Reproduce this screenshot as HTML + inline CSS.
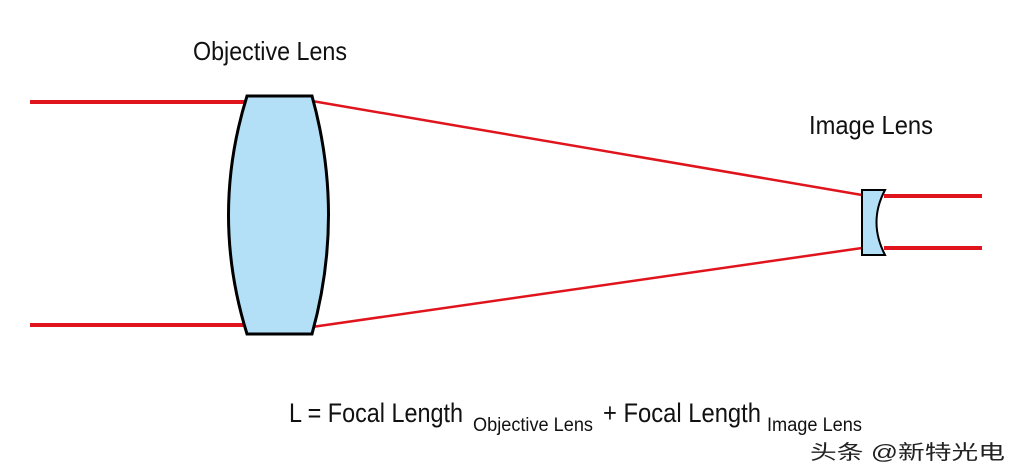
<!DOCTYPE html>
<html><head><style>
html,body{margin:0;padding:0;background:#fff;}
svg{display:block}
text{font-family:"Liberation Sans","Noto Sans CJK SC",sans-serif;}
</style></head><body>
<svg width="1012" height="474" viewBox="0 0 1012 474">
<g stroke="#e0141c" fill="none">
<line x1="30" y1="102" x2="247" y2="102" stroke-width="4"/>
<line x1="30" y1="325" x2="247" y2="325" stroke-width="4"/>
<line x1="312" y1="101" x2="862" y2="195" stroke-width="2.5"/>
<line x1="312" y1="327" x2="862" y2="248" stroke-width="2.5"/>
<line x1="884" y1="196" x2="982" y2="196" stroke-width="4"/>
<line x1="884" y1="248" x2="982" y2="248" stroke-width="4"/>
</g>
<path d="M247 96 L312 96 Q345 215 312 334 L247 334 Q210 215 247 96 Z" fill="#b3e0f7" stroke="#000" stroke-width="3"/>
<path d="M862 190 L885 190 Q868 222 885 255 L862 255 Z" fill="#b3e0f7" stroke="#000" stroke-width="2"/>
<text x="193" y="60" font-size="26" textLength="154" lengthAdjust="spacingAndGlyphs" fill="#111">Objective Lens</text>
<text x="809" y="134" font-size="26" textLength="124" lengthAdjust="spacingAndGlyphs" fill="#111">Image Lens</text>
<text x="289" y="422" font-size="27" textLength="174" lengthAdjust="spacingAndGlyphs" fill="#111">L = Focal Length</text>
<text x="473" y="431" font-size="19" textLength="120" lengthAdjust="spacingAndGlyphs" fill="#111">Objective Lens</text>
<text x="603" y="422" font-size="27" textLength="158" lengthAdjust="spacingAndGlyphs" fill="#111">+ Focal Length</text>
<text x="767" y="431" font-size="19" textLength="95" lengthAdjust="spacingAndGlyphs" fill="#111">Image Lens</text>
<text x="810" y="459" font-size="20" fill="#222" textLength="195" lengthAdjust="spacingAndGlyphs">头条 @新特光电</text>
</svg>
</body></html>
